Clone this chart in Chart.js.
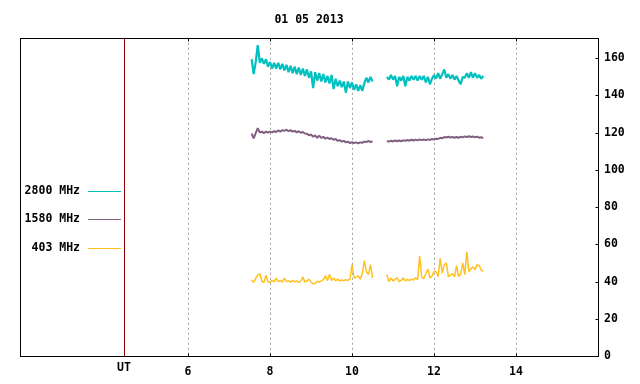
<!DOCTYPE html>
<html>
<head>
<meta charset="utf-8">
<script src="https://cdn.jsdelivr.net/npm/chart.js@4.4.0/dist/chart.umd.min.js"></script>
<style>html,body{margin:0;padding:0;background:#fff}</style>
</head>
<body>
<canvas id="grafico" width="640" height="384"></canvas>
<script>
// horas UT das medidas (dois trechos, com falha entre eles)
var horas1 = [7.55,7.6,7.65,7.7,7.75,7.8,7.85,7.9,7.95,8,8.05,8.1,8.15,8.2,8.25,8.3,8.35,8.4,8.45,8.5,
  8.55,8.6,8.65,8.7,8.75,8.8,8.85,8.9,8.95,9,9.05,9.1,9.15,9.2,9.25,9.3,9.35,9.4,9.45,9.5,
  9.55,9.6,9.65,9.7,9.75,9.8,9.85,9.9,9.95,10,10.05,10.1,10.15,10.2,10.25,10.3,10.35,10.4,10.45,10.5];
var horas2 = [10.85,10.9,10.95,11,11.05,11.1,11.15,11.2,11.25,11.3,11.35,11.4,11.45,11.5,11.55,11.6,
  11.65,11.7,11.75,11.8,11.85,11.9,11.95,12,12.05,12.1,12.15,12.2,12.25,12.3,12.35,12.4,
  12.45,12.5,12.55,12.6,12.65,12.7,12.75,12.8,12.85,12.9,12.95,13,13.05,13.1,13.15,13.2];

var f2800a = [159.5,151.5,158,167,157.5,160,157,159.5,155.5,158,154.5,157.5,154.5,157.5,154,157,153.5,156.5,152.5,156,
  152,155.5,151.5,155,151,154.5,150.5,154,149.5,153,144,152.5,148,152,147.5,151.5,147,150.5,146.5,151,
  143.5,149,145,148,144.5,147.5,141.5,147.5,144,147,143,146,142.5,145.5,142.5,146.5,149.5,147,150,147.5];
var f2800b = [150,148.5,151,148.5,150.5,145,150,148,150.5,145,150,148,150.5,148.5,150.5,148,
  150.5,148.5,150.5,147,150,146,149,151,149,152,149,151.5,154,149.5,151.5,149,
  151,148.5,150.5,148,146,150,149.5,152,149.5,152.5,149.5,152,149.5,151,149,150.5];

var f1580a = [119.5,117,119.8,122.5,120,120.6,119.8,120.6,120,120.6,120.2,120.8,120.4,121.2,120.6,121.4,121,121.6,120.8,121.4,
  120.6,121,120.2,120.8,120,120.4,119.6,119.4,118.6,119,117.8,118.6,117.2,118.4,117.2,117.8,116.8,117.4,116.6,117,
  116.2,116.6,115.6,116,115.2,115.6,114.8,115.2,114.4,115,114.4,114.8,114.2,114.8,114.6,115.2,115,115.6,115,115.4];
var f1580b = [115.5,115.2,115.7,115.3,115.8,115.4,115.8,115.4,115.9,115.6,116.1,115.7,116.2,115.8,116.3,115.9,
  116.4,116,116.3,116,116.4,116.1,116.6,116.3,116.8,116.6,117.3,117,117.7,117.4,117.8,117.4,
  117.7,117.3,117.7,117.3,117.8,117.5,118,117.6,118.1,117.7,118,117.5,117.9,117.3,117.6,117.1];

var f403a = [40.8,39.6,41.8,43.5,44.2,40.2,39.5,43.4,39.8,39.6,40.6,39.8,41.9,40,40.6,39.7,41.8,40,40.5,39.7,
  40.6,39.8,40.4,39.6,40.3,42.4,39.7,40.3,41.3,39.8,38.8,39,40.2,39.8,40.4,41,43.1,40.5,44,40.6,
  41.9,40.4,41.3,40.4,40.8,40.5,41,40.6,41.4,49.1,41.9,42.4,43.1,41.3,44.2,51.2,45.4,43.7,49.1,42];
var f403b = [43.7,40,41.9,40.2,41.3,42,40,40.6,41.9,40.4,41.2,40.5,41.3,40.8,42,41,
  53.9,42.4,41.6,44.2,46.7,41.9,43,45.4,45.4,42.7,52.5,44.5,49.1,50,42.7,43.5,
  44.2,42.5,48.5,42.7,44,50,43.7,56,45.4,46.7,48,46.3,49.1,48.6,46.3,45.4];

var posUT = 4.44;
var ticksX = [posUT, 6, 8, 10, 12, 14];
var rotulosX = ['', '6', '8', '10', '12', '14'];
var ticksY = [0, 20, 40, 60, 80, 100, 120, 140, 160];
var legendas = ['2800 MHz', '1580 MHz', '403 MHz'];
var cores = ['#00c0c0', '#806080', '#ffc020'];
var espessuras = [2.2, 2, 1.5];

function pontos(a, b){
    var p = [];
    horas1.forEach(function(h, i){ p.push({x: h, y: a[i]}); });
    p.push({x: (horas1[horas1.length-1] + horas2[0]) / 2, y: null});
    horas2.forEach(function(h, i){ p.push({x: h, y: b[i]}); });
    return p;
}

var fonte = "'DejaVu Sans Mono', monospace";
Chart.defaults.font = {family: fonte, size: 11.5, weight: 'bold'};
Chart.defaults.color = '#000';

var extras = {
    id: 'extras',
    beforeDatasetsDraw: function(chart){
        var ctx = chart.ctx, a = chart.chartArea, x = chart.scales.x;
        var ux = Math.round(x.getPixelForValue(posUT)) + 0.5;
        ctx.save();
        ctx.strokeStyle = '#8b0000';
        ctx.lineWidth = 1;
        ctx.beginPath(); ctx.moveTo(ux, a.top); ctx.lineTo(ux, a.bottom); ctx.stroke();
        ctx.restore();
    },
    afterDraw: function(chart){
        var ctx = chart.ctx, a = chart.chartArea, x = chart.scales.x, y = chart.scales.y;
        var l = Math.round(a.left) + 0.5, r = Math.round(a.right) + 0.5;
        var t = Math.round(a.top) + 0.5, b = Math.round(a.bottom) + 0.5;
        ctx.save();
        ctx.strokeStyle = '#000';
        ctx.lineWidth = 1;
        ctx.strokeRect(l, t, r - l, b - t);
        ctx.beginPath();
        ticksX.slice(1).forEach(function(v){
            var px = Math.round(x.getPixelForValue(v)) + 0.5;
            ctx.moveTo(px, t); ctx.lineTo(px, t + 3);
            ctx.moveTo(px, b); ctx.lineTo(px, b - 3);
        });
        ticksY.forEach(function(v){
            var py = Math.round(y.getPixelForValue(v)) + 0.5;
            ctx.moveTo(r, py); ctx.lineTo(r - 3, py);
        });
        ctx.stroke();

        // legenda na faixa da esquerda
        var ux = Math.round(x.getPixelForValue(posUT));
        ctx.font = 'bold 11.5px ' + fonte;
        ctx.fillStyle = '#000';
        ctx.textBaseline = 'middle';
        ctx.textAlign = 'right';
        var ys = [a.top + 153, a.top + 181, a.top + 210];
        legendas.forEach(function(txt, i){
            var yy = Math.round(ys[i]) + 0.5;
            ctx.fillText(txt, ux - 44, yy);
            ctx.strokeStyle = cores[i];
            ctx.beginPath(); ctx.moveTo(ux - 36, yy); ctx.lineTo(ux - 3, yy); ctx.stroke();
        });
        ctx.textAlign = 'center';
        ctx.fillText('UT', ux, b + 12);
        ctx.restore();
    }
};

var contexto = document.getElementById('grafico').getContext('2d');

var grafico = new Chart(contexto, {
    type: 'line',
    data: {
        datasets: legendas.map(function(nome, i){
            var series = [[f2800a, f2800b], [f1580a, f1580b], [f403a, f403b]][i];
            return {
                label: nome,
                data: pontos(series[0], series[1]),
                borderColor: cores[i],
                borderWidth: espessuras[i]
            };
        })
    },
    options: {
        responsive: false,
        animation: false,
        spanGaps: false,
        elements: {
            line: {tension: 0, borderJoinStyle: 'bevel'},
            point: {radius: 0}
        },
        layout: {padding: {left: 20, top: 0, right: 0, bottom: 0}},
        plugins: {
            legend: {display: false},
            tooltip: {enabled: false},
            title: {
                display: true,
                text: '01 05 2013',
                fullSize: false,
                padding: {top: 13, bottom: 11},
                font: {family: fonte, size: 11.5, weight: 'bold'},
                color: '#000'
            }
        },
        scales: {
            x: {
                type: 'linear',
                min: 1.9,
                max: 16,
                afterBuildTicks: function(s){ s.ticks = ticksX.map(function(v){ return {value: v}; }); },
                afterFit: function(s){ s.height = 28; },
                ticks: {
                    padding: 9,
                    autoSkip: false,
                    maxRotation: 0,
                    callback: function(v, i){ return rotulosX[i]; }
                },
                grid: {
                    drawTicks: false,
                    color: function(c){ return c.tick && c.tick.value === posUT ? 'rgba(0,0,0,0)' : '#a0a0a0'; }
                },
                border: {display: false, dash: [2, 3]}
            },
            y: {
                position: 'right',
                min: 0,
                max: 171,
                afterBuildTicks: function(s){ s.ticks = ticksY.map(function(v){ return {value: v}; }); },
                afterFit: function(s){ s.width = 42; },
                ticks: {padding: 6},
                grid: {display: false, drawTicks: false},
                border: {display: false}
            }
        }
    },
    plugins: [extras]
});
</script>
</body>
</html>
